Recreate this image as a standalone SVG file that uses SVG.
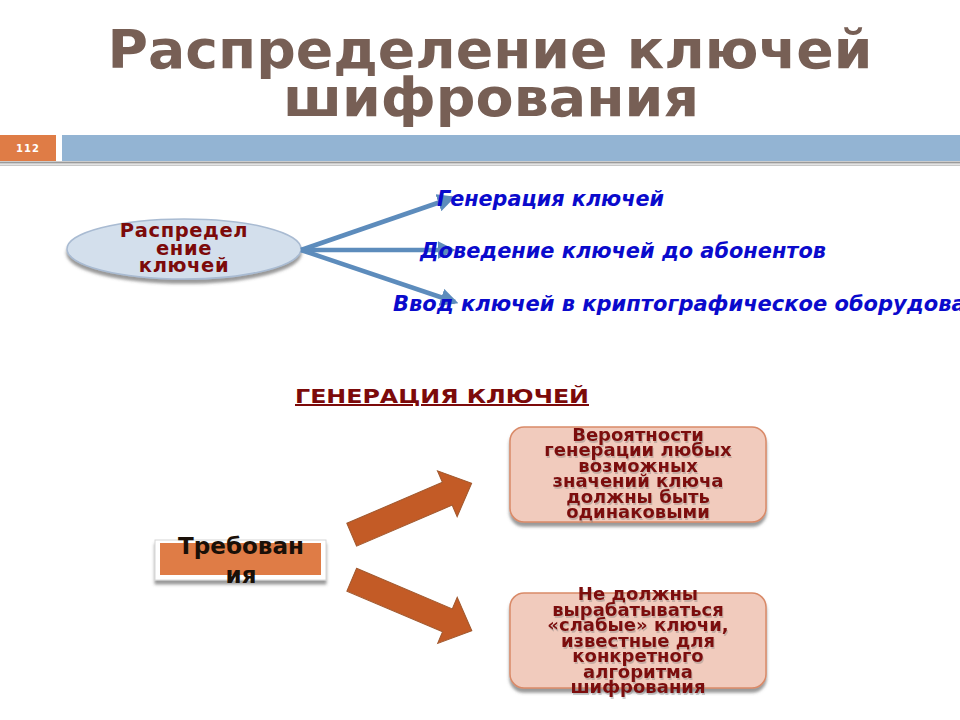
<svg xmlns="http://www.w3.org/2000/svg" width="960" height="720" viewBox="0 0 960 720">
<defs>
<style>
.t{font-family:"DejaVu Sans","Liberation Sans",sans-serif;font-weight:bold}
.title{fill:#775f55;font-size:54px}
.blue{fill:#0a0acc;font-size:21px;font-style:italic}
.dr{fill:#7c0a0a}
.box{fill:#f1cbbd;stroke:#d98a68;stroke-width:1.5}
.bt{font-size:18px;text-anchor:middle}
.conn{stroke:#5d8cbc;stroke-width:4.5;fill:none}
.big{fill:#c35b26;stroke:#a0582e;stroke-width:1}
</style>
<filter id="sh" x="-10%" y="-20%" width="120%" height="150%">
<feDropShadow dx="0" dy="4" stdDeviation="1.5" flood-color="#555" flood-opacity="0.6"/>
</filter>
<filter id="tsh" x="-10%" y="-20%" width="120%" height="150%">
<feDropShadow dx="1" dy="2" stdDeviation="0.6" flood-color="#777" flood-opacity="0.35"/>
</filter>
<marker id="ah" viewBox="0 0 10 10" refX="8" refY="5" markerWidth="4" markerHeight="4" orient="auto" markerUnits="strokeWidth">
<path d="M0,0 L10,5 L0,10 z" fill="#5d8cbc"/>
</marker>
</defs>
<rect width="960" height="720" fill="#ffffff"/>
<g id="title">
<text class="t title" x="490" y="68" text-anchor="middle" textLength="765" lengthAdjust="spacingAndGlyphs">Распределение ключей</text>
<text class="t title" x="491" y="116" text-anchor="middle" textLength="416" lengthAdjust="spacingAndGlyphs">шифрования</text>
</g>
<g id="header">
<rect x="0" y="135" width="56" height="26" fill="#df7c46"/>
<text class="t" x="28" y="152" font-size="10" fill="#ffffff" text-anchor="middle" letter-spacing="1">112</text>
<rect x="62" y="135" width="898" height="26" fill="#93b4d3"/>
<rect x="0" y="161.5" width="960" height="2" fill="#9a9a9a"/>
<rect x="0" y="164.5" width="960" height="1.5" fill="#c8c8c8"/>
</g>
<g id="n-distribution">
<ellipse cx="184" cy="249" rx="117" ry="30" fill="#d3dfec" stroke="#a9bbd2" stroke-width="1.5" filter="url(#sh)"/>
<text class="t dr" font-size="19.5" text-anchor="middle" letter-spacing="0.6"><tspan x="184" y="237">Распредел</tspan><tspan x="184" y="255">ение</tspan><tspan x="184" y="272">ключей</tspan></text>
</g>
<g id="connectors">
<line class="conn" x1="301" y1="250" x2="452" y2="198" marker-end="url(#ah)"/>
<line class="conn" x1="301" y1="250" x2="452" y2="250" marker-end="url(#ah)"/>
<line class="conn" x1="301" y1="250" x2="455" y2="302" marker-end="url(#ah)"/>
</g>
<g id="n-gen">
<text class="t blue" x="437" y="206" textLength="227" lengthAdjust="spacingAndGlyphs">Генерация ключей</text>
</g>
<g id="n-deliver">
<text class="t blue" x="420" y="258" textLength="406" lengthAdjust="spacingAndGlyphs">Доведение ключей до абонентов</text>
</g>
<g id="n-input">
<text class="t blue" x="393" y="311" font-size="21.4">Ввод ключей в криптографическое оборудование</text>
</g>
<g id="heading">
<text class="t dr" x="295" y="403" font-size="20" textLength="294" lengthAdjust="spacingAndGlyphs" text-decoration="underline">ГЕНЕРАЦИЯ КЛЮЧЕЙ</text>
</g>
<g id="n-req">
<rect x="155" y="540" width="171" height="40" fill="#ffffff" stroke="#d6d6d6" stroke-width="1" filter="url(#sh)"/>
<rect x="160" y="543" width="161" height="32" fill="#df7c46"/>
<text class="t" font-size="23" fill="#1a1008" text-anchor="middle"><tspan x="241" y="554" textLength="126" lengthAdjust="spacingAndGlyphs">Требован</tspan><tspan x="241" y="583">ия</tspan></text>
</g>
<g id="big-arrows">
<polygon class="big" transform="translate(351.7,534.7) rotate(-23.2)" points="0,-12.4 104,-12.4 104,-25 130.5,0 104,25 104,12.4 0,12.4"/>
<polygon class="big" transform="translate(351.7,579.7) rotate(23)" points="0,-12.4 104,-12.4 104,-25 130.5,0 104,25 104,12.4 0,12.4"/>
</g>
<g id="n-prob">
<rect class="box" x="510" y="427" width="256" height="95" rx="14" filter="url(#sh)"/>
<text class="t dr bt" filter="url(#tsh)"><tspan x="638" y="440.5">Вероятности</tspan><tspan x="638" y="456">генерации любых</tspan><tspan x="638" y="471.5">возможных</tspan><tspan x="638" y="487">значений ключа</tspan><tspan x="638" y="502.5">должны быть</tspan><tspan x="638" y="518">одинаковыми</tspan></text>
</g>
<g id="n-weak">
<rect class="box" x="510" y="593" width="256" height="95" rx="14" filter="url(#sh)"/>
<text class="t dr bt" filter="url(#tsh)"><tspan x="638" y="600">Не должны</tspan><tspan x="638" y="615.5">вырабатываться</tspan><tspan x="638" y="631">«слабые» ключи,</tspan><tspan x="638" y="646.5">известные для</tspan><tspan x="638" y="662">конкретного</tspan><tspan x="638" y="677.5">алгоритма</tspan><tspan x="638" y="693">шифрования</tspan></text>
</g>
</svg>
